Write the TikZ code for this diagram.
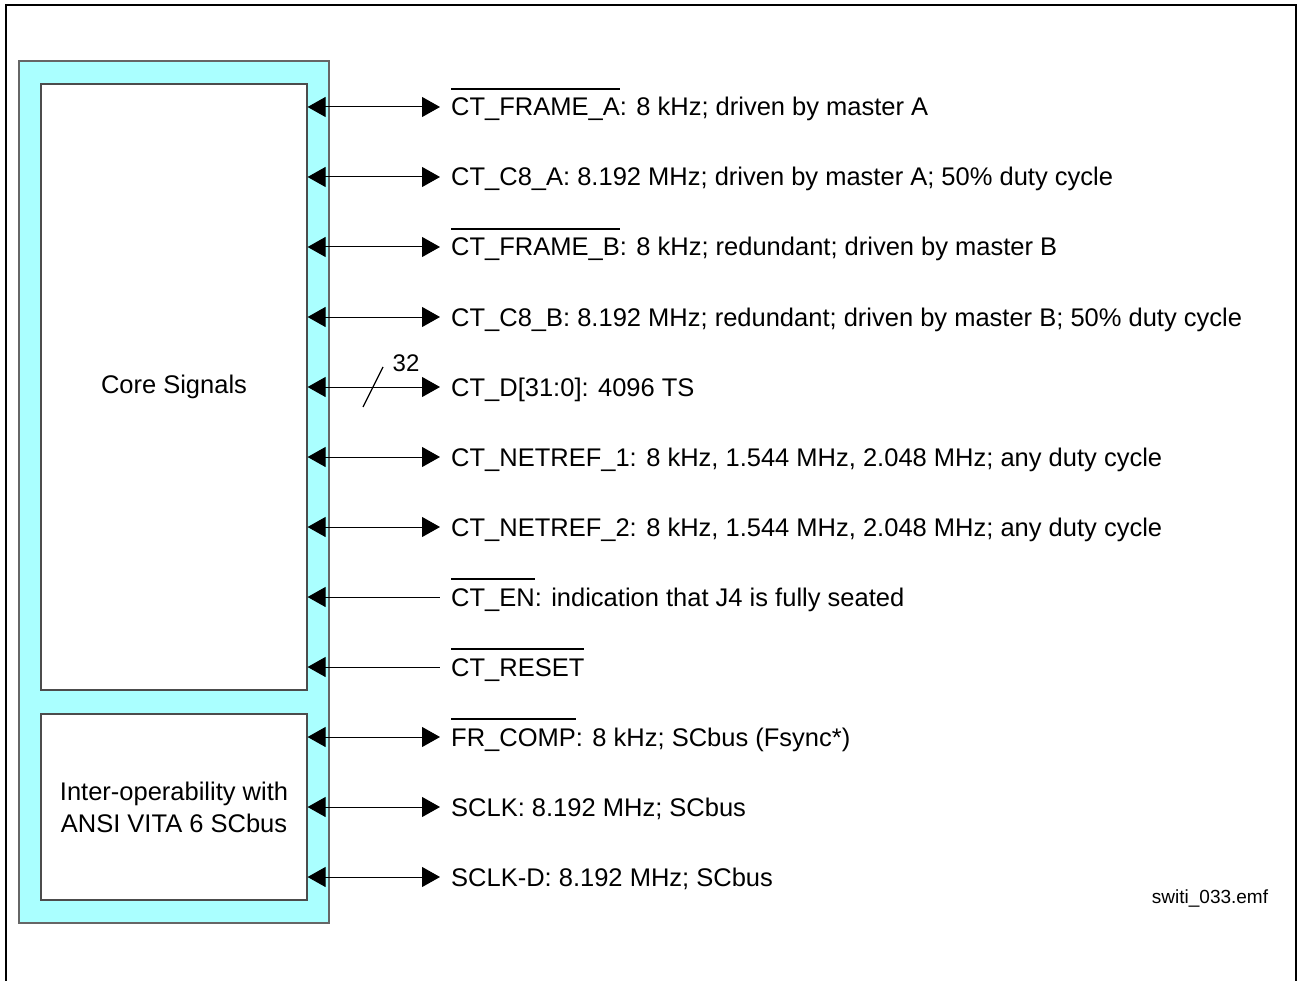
\documentclass[tikz,border=0pt]{standalone}
\usepackage{fontspec}
\setmainfont{Liberation Sans}
\usetikzlibrary{positioning}
\usetikzlibrary{arrows.meta}
\definecolor{buscyan}{RGB}{170,255,255}
\newcommand{\ovl}[1]{\setbox0\hbox{#1}\rlap{\rule[26pt]{\wd0}{1.6pt}}\box0}

\begin{document}
\begin{tikzpicture}[x=1pt,y=-1pt,
  both/.style={{Triangle[length=18pt,width=20pt]}-{Triangle[length=18pt,width=20pt]},line width=1pt},
  inonly/.style={{Triangle[length=18pt,width=20pt]}-,line width=1pt},
  box/.style={draw=black!70,line width=1.2pt,fill=white,minimum width=266pt,align=center,
    font=\fontsize{25.5}{32}\selectfont},
  sig/.style={anchor=west,inner sep=0pt,text height=18pt,text depth=0pt,
    font=\fontsize{25.5}{30}\selectfont}]
  \useasboundingbox (0,0) rectangle (1297,981);
  % frame
  \draw[line width=2.4pt] (6,981) -- (6,5) -- (1296,5) -- (1296,981);
  % connector block
  \node[draw=black!60,line width=1.2pt,fill=buscyan,minimum width=310pt,minimum height=862pt] (bus) at (174,492) {};
  \node[box,minimum height=606pt] (core) at (174,387) {Core Signals};
  \node[box,minimum height=186pt] (inter) at (174,807) {Inter-operability with\\ANSI VITA 6 SCbus};
  % signals
  \node[sig] (s1) at (451,107) {\ovl{CT\_FRAME\_A}: 8 kHz; driven by master A};
  \node[sig] (s2) at (451,177) {CT\_C8\_A: 8.192 MHz; driven by master A; 50\% duty cycle};
  \node[sig] (s3) at (451,247) {\ovl{CT\_FRAME\_B}: 8 kHz; redundant; driven by master B};
  \node[sig] (s4) at (451,317) {CT\_C8\_B: 8.192 MHz; redundant; driven by master B; 50\% duty cycle};
  \node[sig] (s5) at (451,387) {CT\_D[31:0]: 4096 TS};
  \node[sig] (s6) at (451,457) {CT\_NETREF\_1: 8 kHz, 1.544 MHz, 2.048 MHz; any duty cycle};
  \node[sig] (s7) at (451,527) {CT\_NETREF\_2: 8 kHz, 1.544 MHz, 2.048 MHz; any duty cycle};
  \node[sig] (s8) at (451,597) {\ovl{CT\_EN}: indication that J4 is fully seated};
  \node[sig] (s9) at (451,667) {\ovl{CT\_RESET}};
  \node[sig] (s10) at (451,737) {\ovl{FR\_COMP}: 8 kHz; SCbus (Fsync*)};
  \node[sig] (s11) at (451,807) {SCLK: 8.192 MHz; SCbus};
  \node[sig] (s12) at (451,877) {SCLK-D: 8.192 MHz; SCbus};
  \path[both]
  (core.east |- s1.west) edge ([xshift=-11pt]s1.west)
  (core.east |- s2.west) edge ([xshift=-11pt]s2.west)
  (core.east |- s3.west) edge ([xshift=-11pt]s3.west)
  (core.east |- s4.west) edge ([xshift=-11pt]s4.west)
  (core.east |- s5.west) edge ([xshift=-11pt]s5.west)
  (core.east |- s6.west) edge ([xshift=-11pt]s6.west)
  (core.east |- s7.west) edge ([xshift=-11pt]s7.west)
  (inter.east |- s10.west) edge ([xshift=-11pt]s10.west)
  (inter.east |- s11.west) edge ([xshift=-11pt]s11.west)
  (inter.east |- s12.west) edge ([xshift=-11pt]s12.west);
  \path[inonly]
  (core.east |- s8.west) edge ([xshift=-11pt]s8.west)
  (core.east |- s9.west) edge ([xshift=-11pt]s9.west);
  % bus width
  \draw[line width=1.2pt] (363,407) -- (383,367);
  \node[font=\fontsize{24}{28}\selectfont] (w) at (406,363) {32};
  \node[font=\fontsize{19}{22}\selectfont] (file) at (1210,898) {switi\_033.emf};
\end{tikzpicture}
\end{document}
